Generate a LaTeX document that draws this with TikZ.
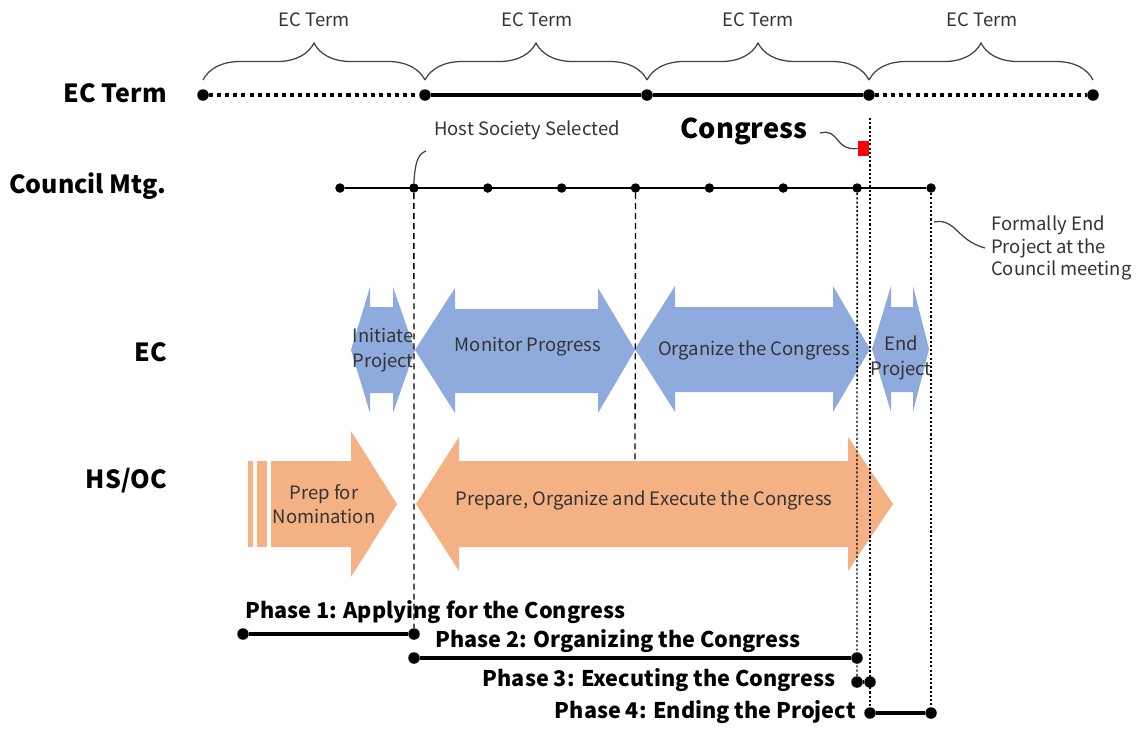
\documentclass[tikz,border=0pt]{standalone}
\usepackage{fontspec}
\setmainfont{Noto Sans CJK JP}
\usetikzlibrary{decorations.pathreplacing}
\definecolor{ecblue}{HTML}{8FAADC}
\definecolor{hsorange}{HTML}{F4B183}
\definecolor{txtgray}{HTML}{333333}

\begin{document}
\begin{tikzpicture}[x=0.02cm,y=-0.02cm,
    bigdot/.style={circle,fill=black,inner sep=0pt,minimum size=0.23cm},
    smalldot/.style={circle,fill=black,inner sep=0pt,minimum size=0.19cm},
    termline/.style={line width=2pt},
    termdots/.style={line width=2pt,dash pattern=on 2.3pt off 2.3pt},
    mtgline/.style={line width=1.6pt},
    hsline/.style={line width=0.75pt,dash pattern=on 3.4pt off 2.3pt},
    endline/.style={line width=0.75pt,dash pattern=on 1.2pt off 1.2pt},
    callout/.style={line width=0.7pt,black!75},
    rowlabel/.style={anchor=east,inner sep=0pt,font=\fontsize{14.2}{17}\selectfont\bfseries},
    phaselabel/.style={inner sep=0pt,font=\fontsize{12.3}{14}\selectfont\bfseries},
    termlabel/.style={text=txtgray,font=\fontsize{10.5}{12}\selectfont},
    arrowtext/.style={text=txtgray,align=center,font=\fontsize{10.5}{14}\selectfont}
]
\useasboundingbox (0,0) rectangle (1138,728);

% EC arrows
\fill[ecblue] (351,350) -- (370,287) -- (370,307) -- (393,307) -- (393,287) -- (415,350)
    -- (393,413) -- (393,393) -- (370,393) -- (370,413) -- cycle;
\fill[ecblue] (415,350) -- (455,288) -- (455,309) -- (598,309) -- (598,288) -- (635,350)
    -- (598,413) -- (598,393) -- (455,393) -- (455,413) -- cycle;
\fill[ecblue] (635,349) -- (675,286) -- (675,307) -- (833,307) -- (833,286) -- (870,349)
    -- (833,412) -- (833,392) -- (675,392) -- (675,412) -- cycle;
\fill[ecblue] (872,349) -- (891,286) -- (891,307) -- (913,307) -- (913,286) -- (929,349)
    -- (913,412) -- (913,392) -- (891,392) -- (891,412) -- cycle;

% HS/OC arrows
\fill[hsorange] (248,461) rectangle (253,547);
\fill[hsorange] (257,461) rectangle (267,547);
\fill[hsorange] (271,461) -- (351,461) -- (351,431) -- (397,504) -- (351,577) -- (351,547) -- (271,547) -- cycle;
\fill[hsorange] (416,504) -- (459,437) -- (459,461) -- (848,461) -- (848,437) -- (893,504)
    -- (848,571) -- (848,547) -- (459,547) -- (459,571) -- cycle;
\coordinate (hstop) at (635,461);

% EC term
\foreach \x [count=\i] in {203,425,647,869,1093}
    \node[bigdot] (e\i) at (\x,95) {};
\draw[termdots] (e1) -- (e2);
\draw[termline] (e2) -- (e3) -- (e4);
\draw[termdots] (e4) -- (e5);
\foreach \i/\x [evaluate=\i as \j using int(\i+1)] in {1/314,2/537,3/758,4/982} {
    \draw[decorate,decoration={brace,amplitude=0.74cm},line width=0.7pt,black!75]
        ([yshift=0.3cm]e\i.center) -- ([yshift=0.3cm]e\j.center);
    \node[termlabel] (t\i) at (\x,20) {EC Term};
}

% council meetings
\foreach \i in {1,...,9}
    \node[smalldot] (c\i) at ({340+73.875*(\i-1)},188) {};
\draw[mtgline] (c1) -- (c9);

\node[fill=red,inner sep=0pt,minimum width=0.22cm,minimum height=0.3cm] (cgbox) at (863.5,148.5) {};
\coordinate (cgtop) at (870,118);

% phases
\node[bigdot] (p1a) at (243,634) {};
\node[bigdot] (p1b) at (414,634) {};
\node[bigdot] (p2a) at (414,658) {};
\node[bigdot] (p2b) at (857,658) {};
\node[bigdot] (p3a) at (857,682) {};
\node[bigdot] (p3b) at (870,682) {};
\node[bigdot] (p4a) at (870,713) {};
\node[bigdot] (p4b) at (931,713) {};
\draw[termline] (p1a) -- (p1b);
\draw[termline] (p2a) -- (p2b);
\draw[termline] (p3a) -- (p3b);
\draw[termline] (p4a) -- (p4b);

% guide lines
\draw[hsline] (c2) -- (p1b);
\draw[hsline] (c5) -- (hstop);
\draw[endline] (c8) -- (p3a);
\draw[endline] (cgtop) -- (p4a);
\draw[endline] (c9) -- (p4b);

% row labels
\node[rowlabel] (lterm) at (167,93) {EC Term};
\node[rowlabel] (lmtg) at (167,186) {Council Mtg.};
\node[rowlabel] (lec) at (167,352) {EC};
\node[rowlabel] (lhs) at (167,481) {HS/OC};

% notes
\node[termlabel,anchor=west] (host) at (428,130) {Host Society Selected};
\coordinate (hostcall) at (426,151);
\draw[callout] (c2.north) .. controls (415,165) and (417,154) .. (hostcall);
\node[font=\fontsize{15.5}{18}\selectfont\bfseries] (congress) at (744,131) {Congress};
\draw[callout] (820,133) .. controls (840,128) and (834,151) .. (cgbox.west);
\node[termlabel,anchor=west,align=left,font=\fontsize{10.5}{12.6}\selectfont] (formal) at (985,248)
    {Formally End\\Project at the\\Council meeting};
\coordinate (formalcall) at (934,222);
\draw[callout] (formalcall) .. controls (956,218) and (956,240) .. (formal.west);

% arrow texts
\node[arrowtext] (a1) at (383,350) {Initiate\\Project};
\node[arrowtext] (a2) at (528,347) {Monitor Progress};
\node[arrowtext] (a3) at (754,350) {Organize the Congress};
\node[arrowtext] (a4) at (901,358) {End\\Project};
\node[arrowtext] (a5) at (324,504) {Prep for\\Nomination};
\node[arrowtext] (a6) at (644,500) {Prepare, Organize and Execute the Congress};

% phase labels
\node[phaselabel,anchor=west] (ph1) at (245,612) {Phase 1: Applying for the Congress};
\node[phaselabel,anchor=west] (ph2) at (435,641) {Phase 2: Organizing the Congress};
\node[phaselabel,anchor=east] (ph3) at (836,680) {Phase 3: Executing the Congress};
\node[phaselabel,anchor=east] (ph4) at (856,712) {Phase 4: Ending the Project};
\end{tikzpicture}
\end{document}
